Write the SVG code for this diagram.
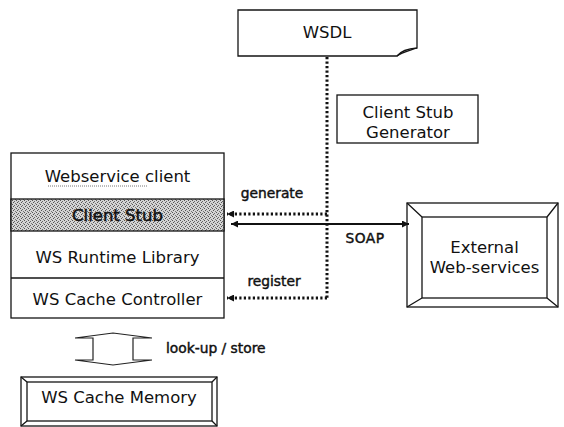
<svg xmlns="http://www.w3.org/2000/svg" width="564" height="427" viewBox="0 0 564 427">
  <defs>
    <style>
      .box{fill:#fff;stroke:#151515;stroke-width:1.3}
      .edge{fill:none;stroke:#151515;stroke-width:1.3}
      .t{font-family:"DejaVu Sans",Verdana,sans-serif;font-size:16.5px;fill:#111;text-anchor:middle}
      .lbl{font-family:"DejaVu Sans",Verdana,sans-serif;font-size:13.8px;fill:#111;stroke:#111;stroke-width:0.45}
      .dot{fill:none;stroke:#111;stroke-width:3;stroke-dasharray:2.2 2.3}
      .solid{fill:none;stroke:#111;stroke-width:2}
    </style>
    <!-- dithered grey fill for the stub layer -->
    <pattern id="dither" width="4" height="4" patternUnits="userSpaceOnUse">
      <rect width="4" height="4" fill="#d4d4d4"/>
      <rect x="0" y="0" width="1" height="1" fill="#555"/>
      <rect x="2" y="1" width="1" height="1" fill="#666"/>
      <rect x="1" y="2" width="1" height="1" fill="#555"/>
      <rect x="3" y="3" width="1" height="1" fill="#777"/>
    </pattern>
    <marker id="ah" viewBox="0 0 10 10" refX="10" refY="5" markerWidth="8" markerHeight="7" orient="auto-start-reverse" markerUnits="userSpaceOnUse">
      <path d="M0,0 L10,5 L0,10 Z" fill="#111"/>
    </marker>
  </defs>

  <rect width="564" height="427" fill="#fff"/>

  <!-- document node -->
  <g id="wsdl">
    <path class="box" d="M238,10 H417 V48 C410,48.5 401,51 397,56 H238 Z"/>
    <path class="edge" d="M397,56 C401,52.5 408,51 417,48"/>
    <text class="t" x="327" y="38">WSDL</text>
  </g>

  <g id="generator">
    <rect class="box" x="337" y="95" width="141" height="48"/>
    <text class="t" x="408" y="118">Client Stub</text>
    <text class="t" x="408" y="138">Generator</text>
  </g>

  <!-- client-side layer stack -->
  <g id="client-stack">
    <rect class="box" x="11" y="153" width="213" height="165"/>
    <rect x="11" y="199" width="213" height="32" fill="url(#dither)" stroke="#151515" stroke-width="1.3"/>
    <line class="edge" x1="11" y1="278" x2="224" y2="278"/>
    <text class="t" x="117.5" y="182">Webservice client</text>
    <line x1="48" y1="186" x2="148" y2="186" stroke="#777" stroke-width="1" stroke-dasharray="1 1"/>
    <text class="t" x="117.5" y="221" stroke="#111" stroke-width="0.5">Client Stub</text>
    <text class="t" x="117.5" y="263">WS Runtime Library</text>
    <text class="t" x="117.5" y="305">WS Cache Controller</text>
  </g>

  <g id="external">
    <rect class="box" x="407" y="203" width="151" height="104"/>
    <rect class="box" x="422" y="217" width="125" height="81"/>
    <path class="edge" d="M407,203 L422,217 M558,203 L547,217 M407,307 L422,298 M558,307 L547,298"/>
    <text class="t" x="484.5" y="253">External</text>
    <text class="t" x="484.5" y="273">Web-services</text>
  </g>

  <g id="cache-memory">
    <rect class="box" x="21" y="377" width="196" height="49"/>
    <rect class="box" x="27" y="382" width="185" height="39"/>
    <path class="edge" d="M21,377 L27,382 M217,377 L212,382 M21,426 L27,421 M217,426 L212,421"/>
    <text class="t" x="119" y="403">WS Cache Memory</text>
  </g>

  <!-- connectors -->
  <g id="connectors">
    <line class="dot" x1="327" y1="57" x2="327" y2="298"/>
    <path class="dot" d="M327,214 H227" marker-end="url(#ah)"/>
    <path class="dot" d="M327,298 H227" marker-end="url(#ah)"/>
    <path class="solid" d="M231,224 H409" marker-start="url(#ah)" marker-end="url(#ah)"/>
    <polygon points="75,338 113,333 152,338 133,338 133,360 152,360 113,365 75,360 93,360 93,338" fill="#fff" stroke="#222" stroke-width="1.2"/>
    <text class="lbl" x="272" y="198" text-anchor="middle">generate</text>
    <text class="lbl" x="274" y="286" text-anchor="middle">register</text>
    <text class="lbl" x="365" y="243" text-anchor="middle" letter-spacing="0.5">SOAP</text>
    <text class="lbl" x="166" y="353" font-size="14.5">look-up / store</text>
  </g>
</svg>
